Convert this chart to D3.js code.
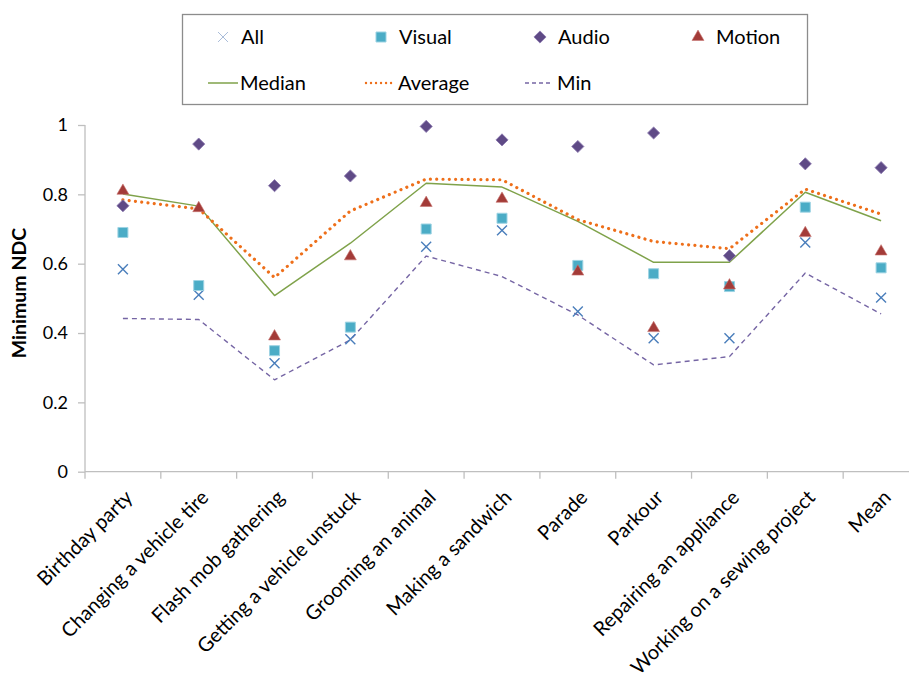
<!DOCTYPE html>
<html>
<head>
<meta charset="utf-8">
<script src="https://cdn.jsdelivr.net/npm/d3@7"></script>
<style>
  html, body { margin: 0; padding: 0; background: #fff; }
  svg { display: block; font-family: Lato, "Open Sans", sans-serif; }
</style>
</head>
<body>
<svg id="chart" width="909" height="683"></svg>
<script>
// Activity categories on the x axis
const categories = [
  "Birthday party", "Changing a vehicle tire", "Flash mob gathering",
  "Getting a vehicle unstuck", "Grooming an animal", "Making a sandwich",
  "Parade", "Parkour", "Repairing an appliance",
  "Working on a sewing project", "Mean"
];

// Minimum NDC per modality
const allValues    = [0.584, 0.510, 0.313, 0.382, 0.649, 0.696, 0.462, 0.385, 0.385, 0.661, 0.502];
const visualValues = [0.690, 0.537, 0.349, 0.417, 0.700, 0.731, 0.595, 0.571, 0.534, 0.763, 0.588];
const audioValues  = [0.767, 0.945, 0.825, 0.853, 0.996, 0.957, 0.938, 0.977, 0.623, 0.888, 0.877];
const motionValues = [0.810, 0.760, 0.390, 0.621, 0.775, 0.787, 0.577, 0.414, 0.537, 0.688, 0.635];

// Summary lines across modalities
const medianValues  = [0.801, 0.766, 0.508, 0.659, 0.832, 0.821, 0.722, 0.604, 0.604, 0.806, 0.724];
const averageValues = [0.784, 0.758, 0.560, 0.752, 0.844, 0.842, 0.727, 0.664, 0.643, 0.815, 0.743];
const minValues     = [0.442, 0.439, 0.265, 0.380, 0.622, 0.563, 0.452, 0.308, 0.332, 0.573, 0.455];

const yTicks = [0, 0.2, 0.4, 0.6, 0.8, 1];
const yTitle = "Minimum NDC";

const svg = d3.select("#chart");

const x = d3.scaleBand().domain(categories).range([85, 919]).padding(0);
const y = d3.scaleLinear().domain([0, 1]).range([471.7, 125]);
const cx = c => x(c) + x.bandwidth() / 2;

const axisColor = "#bfbfbf";

// ---- y axis ----
const yAxis = svg.append("g")
  .attr("transform", "translate(85,0)")
  .call(d3.axisLeft(y).tickValues(yTicks).tickSize(7).tickPadding(10)
    .tickFormat(d => String(d)));
yAxis.select(".domain").attr("stroke", axisColor).attr("stroke-width", 1.3)
  .attr("d", `M0,${y(1)}V${y(0) + 7}`);
yAxis.selectAll(".tick line").attr("stroke", axisColor).attr("stroke-width", 1.3);
yAxis.selectAll(".tick text").attr("font-size", 18).attr("fill", "#000")
  .attr("font-family", "Lato, sans-serif");

svg.append("text")
  .attr("transform", "translate(26,293) rotate(-90)")
  .attr("text-anchor", "middle")
  .attr("font-size", 19.5).attr("font-weight", "bold")
  .text(yTitle);

// ---- x axis ----
const xAxisG = svg.append("g");
xAxisG.append("line")
  .attr("x1", 85).attr("x2", 919)
  .attr("y1", y(0)).attr("y2", y(0))
  .attr("stroke", axisColor).attr("stroke-width", 1.3);
xAxisG.selectAll("line.tick")
  .data(categories)
  .join("line")
  .attr("class", "tick")
  .attr("x1", d => x(d) + x.bandwidth())
  .attr("x2", d => x(d) + x.bandwidth())
  .attr("y1", y(0)).attr("y2", y(0) + 7)
  .attr("stroke", axisColor).attr("stroke-width", 1.3);

xAxisG.selectAll("text.cat")
  .data(categories)
  .join("text")
  .attr("class", "cat")
  .attr("text-anchor", "end")
  .attr("font-size", 20)
  .attr("transform", d => `translate(${cx(d) + 11},${y(0) + 27}) rotate(-45)`)
  .text(d => d);

// ---- lines ----
const line = d3.line().x((d, i) => cx(categories[i])).y(d => y(d));

const lineSeries = [
  { name: "Median",  values: medianValues,  color: "#7fa24a", width: 1.5, dash: null, cap: "butt" },
  { name: "Average", values: averageValues, color: "#ee6f1a", width: 3.2, dash: "0.01 6.3", cap: "round" },
  { name: "Min",     values: minValues,     color: "#7565a4", width: 1.4, dash: "5 4", cap: "butt" }
];

svg.append("g").selectAll("path")
  .data(lineSeries)
  .join("path")
  .attr("d", d => line(d.values))
  .attr("fill", "none")
  .attr("stroke", d => d.color)
  .attr("stroke-width", d => d.width)
  .attr("stroke-dasharray", d => d.dash)
  .attr("stroke-linecap", d => d.cap)
  .attr("stroke-linejoin", "round");

// ---- markers ----
const markerSeries = [
  { name: "All",    values: allValues,    type: d3.symbolTimes,    size: 66,  rot: 0,  fill: "none",    stroke: "#4a7ebb", sw: 1.4 },
  { name: "Visual", values: visualValues, type: d3.symbolSquare,   size: 100, rot: 0,  fill: "#4bacc6", stroke: "#9dd3e3", sw: 1 },
  { name: "Audio",  values: audioValues,  type: d3.symbolSquare,   size: 74,  rot: 45, fill: "#5f4a86", stroke: "#8c7bb0", sw: 0.8 },
  { name: "Motion", values: motionValues, type: d3.symbolTriangle, size: 62,  rot: 0,  fill: "#a33b38", stroke: "#c77470", sw: 0.6 }
];

markerSeries.forEach(s => {
  svg.append("g").selectAll("path")
    .data(s.values)
    .join("path")
    .attr("d", d3.symbol().type(s.type).size(s.size))
    .attr("transform", (d, i) => `translate(${cx(categories[i])},${y(d)}) rotate(${s.rot})`)
    .attr("fill", s.fill)
    .attr("stroke", s.stroke)
    .attr("stroke-width", s.sw);
});

// ---- legend ----
const legend = svg.append("g");
legend.append("rect")
  .attr("x", 182.5).attr("y", 14.5).attr("width", 625).attr("height", 90)
  .attr("fill", "#fff").attr("stroke", "#8c8c8c").attr("stroke-width", 1.3);

const markerLegendX = [223, 381, 540, 698];
markerSeries.forEach((s, i) => {
  const g = legend.append("g").attr("transform", `translate(${markerLegendX[i]},37)`);
  g.append("path")
    .attr("d", d3.symbol().type(s.type).size(s.size))
    .attr("transform", `rotate(${s.rot})`)
    .attr("fill", s.fill)
    .attr("stroke", s.name === "All" ? "#a9bcd9" : s.stroke)
    .attr("stroke-width", s.name === "All" ? 1 : s.sw);
  g.append("text").attr("x", 18).attr("y", 7).attr("font-size", 20).text(s.name);
});

const lineLegendX = [208, 366, 525];
lineSeries.forEach((s, i) => {
  const g = legend.append("g").attr("transform", `translate(${lineLegendX[i]},83)`);
  g.append("line")
    .attr("x1", 0).attr("x2", s.name === "Median" ? 30 : 28).attr("y1", 0).attr("y2", 0)
    .attr("stroke", s.color)
    .attr("stroke-width", s.name === "Average" ? 2.4 : s.width)
    .attr("stroke-dasharray", s.name === "Average" ? "0.01 5" : (s.dash ? "4 3" : null))
    .attr("stroke-linecap", s.cap);
  g.append("text").attr("x", 32).attr("y", 7).attr("font-size", 20).text(s.name);
});
</script>
</body>
</html>
